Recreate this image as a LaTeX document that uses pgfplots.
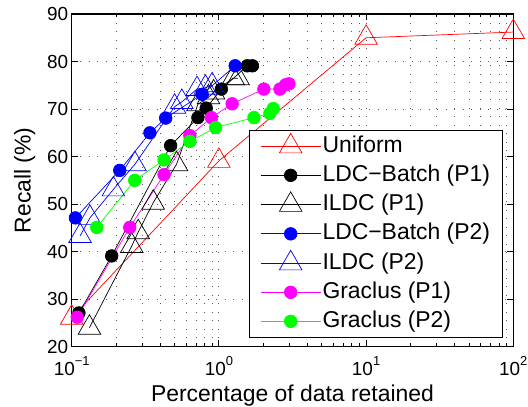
\documentclass[border=0pt]{standalone}
\usepackage{pgfplots}
\pgfplotsset{compat=1.18}
\usepackage{fontspec}
\setmainfont{Liberation Sans}
\definecolor{mmag}{rgb}{1,0,1}
\definecolor{mgreen}{rgb}{0,1,0}
\newcommand\tp[1]{10\raisebox{10.5bp}{\fontsize{13}{13}\selectfont #1}}
\begin{document}
\begin{tikzpicture}
\path[use as bounding box] (0,0) rectangle (528bp,407bp);
\begin{axis}[
  at={(71.7bp,60.3bp)}, anchor=south west,
  scale only axis, width=441.6bp, height=332.7bp,
  xmode=log, xmin=0.1, xmax=100, ymin=20, ymax=90,
  xtick={0.1,1,10,100}, xticklabels={\tp{−1},\tp{0},\tp{1},\tp{2}},
  ytick={20,30,...,90},
  /pgf/number format/assume math mode=true,
  tick label style={font=\fontsize{19}{19}\selectfont},
  xticklabel style={yshift=-6bp},
  label style={font=\fontsize{23}{23}\selectfont},
  xlabel={Percentage of data retained},
  ylabel={Recall (\%)},
  xlabel style={yshift=-2bp},
  ylabel style={yshift=5bp},
  tick align=inside,
  major tick length=6.5bp, minor tick length=3.5bp,
  tick style={line width=0.8bp, black},
  axis line style={line width=1.1bp},
  xmajorgrids, xminorgrids, ymajorgrids,
  major grid style={dash pattern=on 1bp off 7.5bp, black!65, line width=0.8bp},
  minor grid style={dash pattern=on 1bp off 7.5bp, black!65, line width=0.8bp},
  clip=false,
  legend style={at={(0.976,0.029)}, anchor=south east,
    font=\fontsize{23}{23}\selectfont, draw=black, fill=white,
    cells={anchor=west},
    nodes={text height=17bp, text depth=5bp, inner sep=1.5bp},
    row sep=4bp, inner xsep=11bp, inner ysep=3bp},
  legend image code/.code={
    \draw[mark repeat=2,mark phase=2,#1] plot coordinates {(0bp,0bp) (30bp,0bp) (60bp,0bp)};
  },
  every axis plot/.append style={line width=0.7bp},
]
\addplot[red, mark=triangle, mark size=13bp, mark options={solid}] coordinates {
 (0.1,26.1) (1.0,59.1) (10,85) (100,86.2)};
\addlegendentry{Uniform}
\addplot[black, mark=*, mark size=6.3bp] coordinates {
 (0.112,27.1) (0.187,39.1) (0.47,62.3) (0.72,68.2) (0.82,70.2) (1.04,74.2) (1.56,79.1) (1.69,79.1)};
\addlegendentry{LDC−Batch (P1)}
\addplot[black, mark=triangle, mark size=13bp] coordinates {
 (0.132,24.0) (0.256,41.2) (0.283,44.1) (0.358,50.3) (0.516,58.4) (0.72,71) (0.85,72.5) (0.92,73.5) (1.25,76.5) (1.35,76.5)};
\addlegendentry{ILDC (P1)}
\addplot[blue, mark=*, mark size=6.3bp] coordinates {
 (0.106,47.1) (0.212,57.1) (0.34,65) (0.435,68.1) (0.77,73.1) (1.29,79.1)};
\addlegendentry{LDC−Batch (P2)}
\addplot[blue, mark=triangle, mark size=13bp] coordinates {
 (0.114,43.3) (0.133,47.1) (0.192,53.1) (0.269,58.4) (0.5,70.5) (0.56,71.5) (0.71,74.2) (0.81,74.5) (0.9,75)};
\addlegendentry{ILDC (P2)}
\addplot[mmag, mark=*, mark size=6.3bp] coordinates {
 (0.109,26.2) (0.248,45.1) (0.424,56.2) (0.635,64.4) (0.89,68.2) (1.23,71.1) (2.02,74.2) (2.6,74.2) (2.84,75.1) (2.99,75.3)};
\addlegendentry{Graclus (P1)}
\addplot[mgreen, mark=*, mark size=6.3bp] coordinates {
 (0.148,45.1) (0.268,55) (0.424,59.3) (0.635,63.2) (0.95,66.1) (1.73,68.2) (2.22,69.1) (2.34,70.1)};
\addlegendentry{Graclus (P2)}
\end{axis}
\end{tikzpicture}
\end{document}
